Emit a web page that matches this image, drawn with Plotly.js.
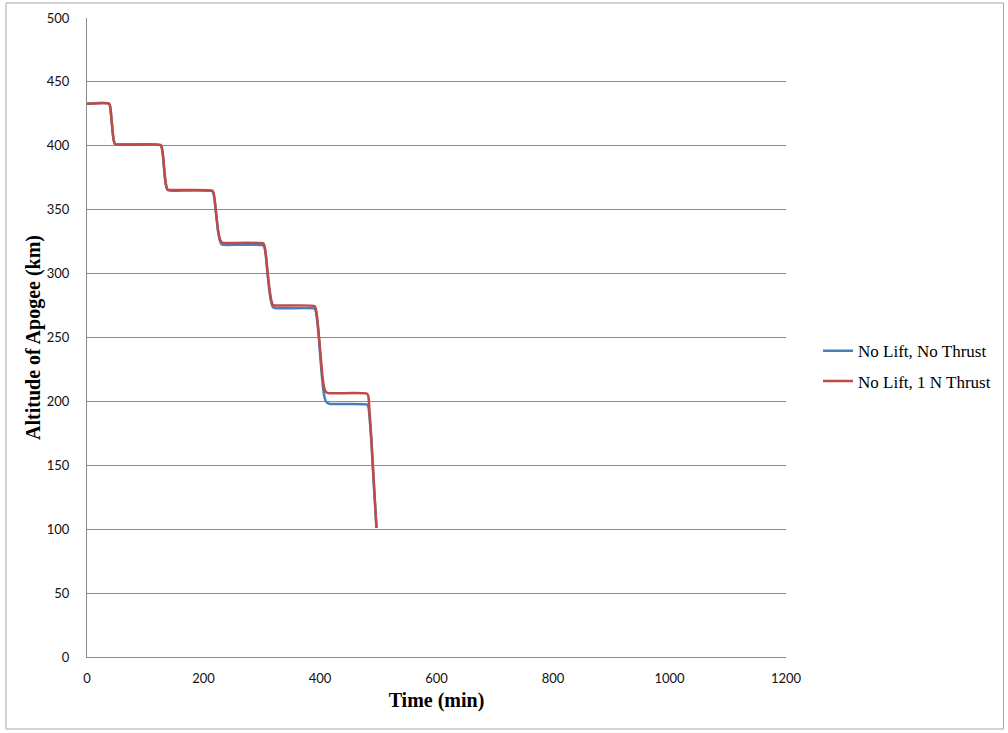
<!DOCTYPE html>
<html>
<head>
<meta charset="utf-8">
<script src="https://cdn.plot.ly/plotly-3.0.1.min.js"></script>
<style>
  html, body { margin: 0; padding: 0; background: #ffffff; }
  #chart { width: 1008px; height: 733px; }
</style>
</head>
<body>
<div id="chart"></div>
<script>
// Apogee altitude history, one orbit step per ~90 min
const seriesNames = ["No Lift, No Thrust", "No Lift, 1 N Thrust"];

const timeNoThrust = [0, 38, 40, 42, 44, 46, 48, 52, 126, 128, 130, 132, 134, 136, 138, 141,
  215, 217, 219, 222, 225, 228, 231, 235, 303, 305, 307, 310, 313, 316, 319, 323,
  391, 393, 395, 398, 401, 404, 407, 410, 414, 419, 481, 483, 485, 488, 491, 494, 497];
const altNoThrust = [433, 433, 430, 421, 411, 404, 401.5, 401, 400.5, 399, 394, 384, 374, 368, 365.5, 365,
  364.5, 363, 358, 345, 333, 326, 323, 322.5, 322, 320, 314, 300, 287, 278, 274, 273,
  272.5, 270, 264, 250, 232, 216, 205, 200, 198.5, 198, 197.5, 196, 188, 170, 146, 123, 101];

const timeThrust = [0, 38, 40, 42, 44, 46, 48, 52, 126, 128, 130, 132, 134, 136, 138, 141,
  215, 217, 219, 222, 225, 228, 231, 235, 303, 305, 307, 310, 313, 316, 319, 323,
  391, 393, 395, 398, 401, 404, 407, 410, 414, 481, 483, 485, 488, 491, 494, 497];
const altThrust = [433, 433, 430, 421, 411, 404, 401.5, 401, 400.8, 399.5, 394.5, 385, 375, 369, 366, 365.5,
  365, 363.5, 358.5, 346, 334, 327.5, 324.5, 324, 323.5, 321, 315, 301, 289, 280, 275.5, 275,
  274.5, 272, 266, 252, 236, 221, 211, 207.5, 206.5, 206, 204, 192, 172, 148, 124, 101];

const xTicks = [0, 200, 400, 600, 800, 1000, 1200];
const yTicks = [0, 50, 100, 150, 200, 250, 300, 350, 400, 450, 500];

const traces = [
  {
    x: timeNoThrust, y: altNoThrust, name: seriesNames[0], type: "scatter", mode: "lines",
    legendgroup: "a",
    line: { color: "#4a7ebb", width: 2.5, shape: "spline", smoothing: 0.6 }
  },
  {
    x: timeThrust, y: altThrust, name: seriesNames[1], type: "scatter", mode: "lines",
    legendgroup: "b",
    line: { color: "#be4b48", width: 2.5, shape: "spline", smoothing: 0.6 }
  }
];

const tickFont = { family: "Lato, 'Open Sans', sans-serif", size: 13, color: "#111111" };
const titleFont = { family: "'Liberation Serif', 'Times New Roman', serif", size: 20, color: "#000000", weight: "bold" };

const layout = {
  width: 1008,
  height: 733,
  margin: { l: 87, r: 222, t: 18, b: 76 },
  paper_bgcolor: "#ffffff",
  plot_bgcolor: "#ffffff",
  showlegend: true,
  legend: {
    x: 1.0458, y: 0.455, xanchor: "left", yanchor: "middle",
    font: { family: "'Liberation Serif', 'Times New Roman', serif", size: 17, color: "#000000" },
    traceorder: "grouped",
    tracegroupgap: 5,
    bgcolor: "rgba(0,0,0,0)"
  },
  xaxis: {
    range: [0, 1200],
    tickvals: xTicks,
    ticktext: xTicks.map(String),
    tickfont: tickFont,
    showgrid: false,
    zeroline: false,
    showline: true,
    linecolor: "#8c8c8c",
    linewidth: 1,
    ticks: "",
    ticklabelstandoff: 9,
    title: { text: "Time (min)", font: titleFont, standoff: 8 }
  },
  yaxis: {
    range: [0, 500],
    tickvals: yTicks,
    ticktext: yTicks.map(String),
    tickfont: tickFont,
    showgrid: true,
    gridcolor: "#8c8c8c",
    gridwidth: 1,
    zeroline: false,
    showline: true,
    linecolor: "#8c8c8c",
    linewidth: 1,
    ticks: "",
    ticklabelstandoff: 14,
    title: { text: "Altitude of Apogee (km)", font: titleFont, standoff: 0 }
  },
  shapes: [
    {
      type: "rect", xref: "paper", yref: "paper", layer: "below",
      x0: -0.1159, x1: 1.3112, y0: -0.1127, y1: 1.0235,
      line: { color: "#a6a6a6", width: 1 }, fillcolor: "rgba(0,0,0,0)"
    }
  ]
};

Plotly.newPlot("chart", traces, layout, { displayModeBar: false, staticPlot: true });
</script>
</body>
</html>
